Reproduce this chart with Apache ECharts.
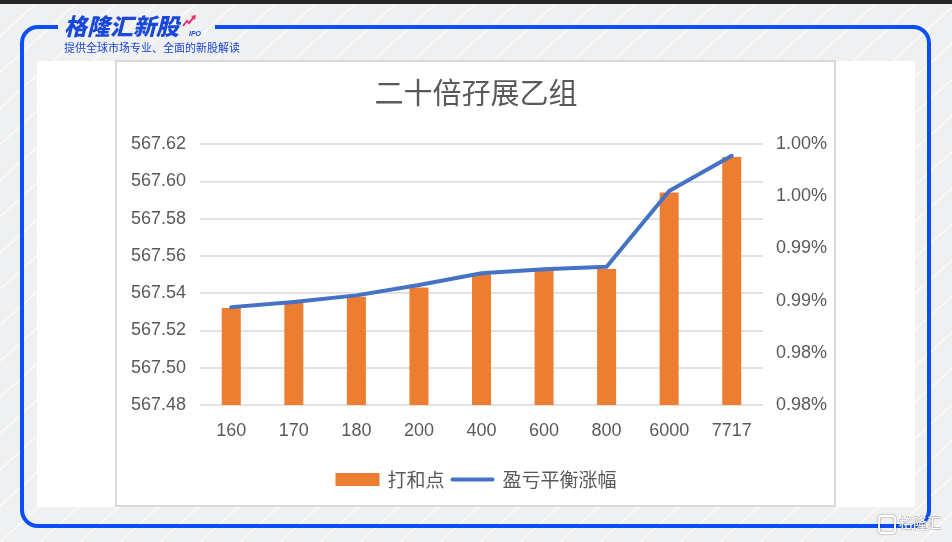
<!DOCTYPE html>
<html>
<head>
<meta charset="utf-8">
<script src="https://cdn.jsdelivr.net/npm/echarts@6/dist/echarts.min.js"></script>
<style>html,body{margin:0;padding:0;background:#eef0f2;}#chart{width:952px;height:542px;}</style>
</head>
<body>
<div id="chart"></div>
<script>
// ---- data ----
const categories = ['160', '170', '180', '200', '400', '600', '800', '6000', '7717'];
const breakEvenPoint = [567.532, 567.535, 567.538, 567.543, 567.550, 567.552, 567.553, 567.594, 567.613]; // 打和点
const breakEvenRise = [0.9875, 0.9879, 0.9884, 0.9892, 0.9901, 0.9904, 0.9906, 0.9964, 0.9991];      // 盈亏平衡涨幅 (%)
const leftAxis = { min: 567.48, max: 567.62, interval: 0.02 };
const rightAxis = { min: 0.98, max: 1.00, interval: 0.004 };
const titleText = '二十倍孖展乙组';
const seriesNames = ['打和点', '盈亏平衡涨幅'];

const FONT = '"Liberation Sans", "Noto Sans CJK SC", sans-serif';
const CJK = '"Noto Sans CJK SC", sans-serif';

// ---- decoration ----
const deco = [];
let zz = 0;
function add(el) { el.z = -10; el.z2 = zz++; el.silent = true; deco.push(el); }
add({ type: 'rect', shape: { x: 0, y: 0, width: 952, height: 542 }, style: { fill: '#eef0f2' } });
for (let x = -560; x < 980; x += 40) {
  add({ type: 'line', shape: { x1: x, y1: 542, x2: x + 600, y2: 0 }, style: { stroke: 'rgba(255,255,255,0.75)', lineWidth: 1.5 } });
}
add({ type: 'rect', shape: { x: 0, y: 0, width: 952, height: 4 }, style: { fill: '#262626' } });
add({ type: 'rect', shape: { x: 37, y: 61, width: 878, height: 446 }, style: { fill: '#ffffff' } });
add({ type: 'rect', shape: { x: 116, y: 61, width: 719, height: 445 }, style: { fill: '#ffffff', stroke: '#d9d9d9', lineWidth: 2 } });
// blue rounded frame with a gap for the logo
const BLUE = '#0a4ef5';
const fs = { stroke: BLUE, lineWidth: 4, fill: null };
[[38, 27, 58, 27], [22, 43, 22, 510], [38, 526, 913, 526], [929, 43, 929, 510], [215, 27, 913, 27]].forEach(l => {
  add({ type: 'line', shape: { x1: l[0], y1: l[1], x2: l[2], y2: l[3] }, style: Object.assign({}, fs) });
});
[[38, 43, Math.PI, 1.5 * Math.PI], [913, 43, 1.5 * Math.PI, 2 * Math.PI], [913, 510, 0, 0.5 * Math.PI], [38, 510, 0.5 * Math.PI, Math.PI]].forEach(a => {
  add({ type: 'arc', shape: { cx: a[0], cy: a[1], r: 16, startAngle: a[2], endAngle: a[3], clockwise: true }, style: Object.assign({}, fs) });
});
add({ type: 'text', x: 64, y: 15, style: { text: '格隆汇新股', fill: '#1a49d8', font: 'italic 900 23px ' + CJK } });
add({ type: 'text', x: 189, y: 31, style: { text: 'IPO', fill: '#1a49d8', font: 'italic bold 7px ' + FONT } });
add({ type: 'polyline', shape: { points: [[183, 26], [187, 21], [189, 23], [194, 17]] }, style: { stroke: '#e8336b', lineWidth: 2, fill: null } });
add({ type: 'polygon', shape: { points: [[191, 16], [196, 15], [195, 20]] }, style: { fill: '#e8336b' } });
add({ type: 'text', x: 64, y: 42, style: { text: '提供全球市场专业、全面的新股解读', fill: '#1b44d0', font: '11px ' + CJK } });
add({ type: 'rect', shape: { x: 879, y: 516, width: 16, height: 17, r: 3 }, style: { fill: null, stroke: '#ffffff', lineWidth: 2, shadowColor: 'rgba(0,0,0,0.5)', shadowBlur: 2 } });
add({ type: 'text', x: 899, y: 516, style: { text: '格隆汇', fill: '#ffffff', stroke: 'rgba(130,130,130,0.7)', lineWidth: 0.8, font: '14px ' + CJK } });

const chart = echarts.init(document.getElementById('chart'), null, { renderer: 'canvas' });
chart.setOption({
  animation: false,
  backgroundColor: 'transparent',
  graphic: { elements: deco },
  title: {
    text: titleText, left: 'center', top: 78, padding: 0,
    textStyle: { color: '#595959', fontSize: 29, fontWeight: 'normal', fontFamily: CJK }
  },
  legend: {
    data: [
      { name: seriesNames[0], icon: 'rect' },
      { name: seriesNames[1], icon: 'path://M2,0 L44,0 A2,2 0 0 1 44,4 L2,4 A2,2 0 0 1 2,0 Z' }
    ],
    left: 'center', top: 465, itemWidth: 44, itemHeight: 13, itemGap: 6,
    textStyle: { color: '#595959', fontSize: 19, fontFamily: CJK, padding: [0, 0, 0, 3] }
  },
  grid: { left: 200, right: 189, top: 144, bottom: 137, containLabel: false },
  xAxis: {
    type: 'category', data: categories,
    axisLine: { show: false }, axisTick: { show: false },
    axisLabel: { color: '#595959', fontSize: 18, fontFamily: FONT, margin: 17 }
  },
  yAxis: [
    {
      type: 'value', min: leftAxis.min, max: leftAxis.max, interval: leftAxis.interval,
      axisLine: { show: false }, axisTick: { show: false },
      splitLine: { lineStyle: { color: '#d9d9d9', width: 1.5 } },
      axisLabel: { color: '#595959', fontSize: 18, fontFamily: FONT, margin: 14, formatter: v => v.toFixed(2) }
    },
    {
      type: 'value', min: rightAxis.min, max: rightAxis.max, interval: rightAxis.interval,
      axisLine: { show: false }, axisTick: { show: false }, splitLine: { show: false },
      axisLabel: { color: '#595959', fontSize: 18, fontFamily: FONT, margin: 13, formatter: v => v.toFixed(2) + '%' }
    }
  ],
  series: [
    { name: seriesNames[0], type: 'bar', yAxisIndex: 0, data: breakEvenPoint, barWidth: 19, itemStyle: { color: '#ED7D31' } },
    { name: seriesNames[1], type: 'line', yAxisIndex: 1, data: breakEvenRise, symbol: 'none', color: '#4472C4',
      lineStyle: { color: '#4472C4', width: 4, cap: 'round', join: 'round' } }
  ]
});
</script>
</body>
</html>
